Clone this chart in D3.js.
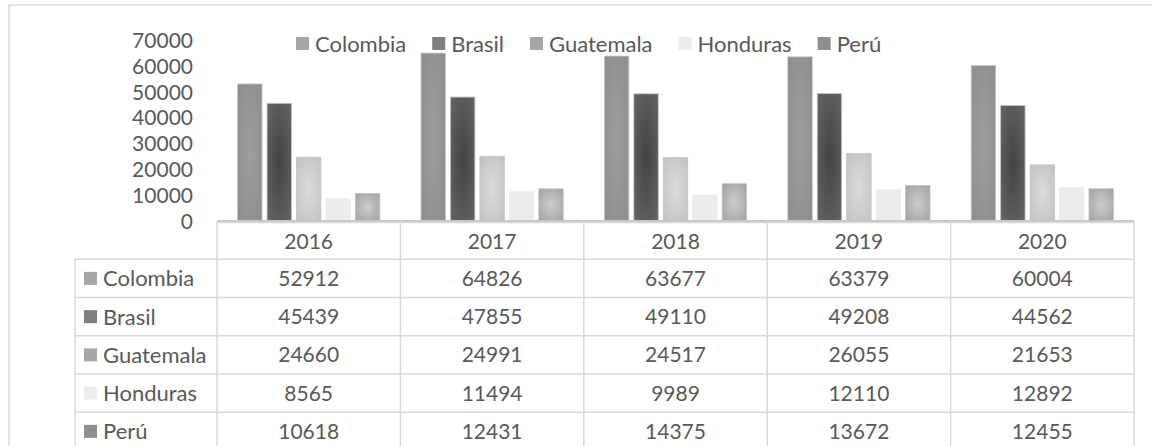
<!DOCTYPE html>
<html>
<head>
<meta charset="utf-8">
<script src="https://cdn.jsdelivr.net/npm/d3@7/dist/d3.min.js"></script>
<style>
  html, body { margin: 0; padding: 0; background: #fff; }
  svg { display: block; font-family: Lato, "Open Sans", sans-serif; }
</style>
</head>
<body>
<svg id="chart" width="1152" height="446"></svg>
<script>
const years = ["2016", "2017", "2018", "2019", "2020"];
const seriesNames = ["Colombia", "Brasil", "Guatemala", "Honduras", "Perú"];
const colombia = [52912, 64826, 63677, 63379, 60004];
const brasil = [45439, 47855, 49110, 49208, 44562];
const guatemala = [24660, 24991, 24517, 26055, 21653];
const honduras = [8565, 11494, 9989, 12110, 12892];
const peru = [10618, 12431, 14375, 13672, 12455];
const yTicks = [0, 10000, 20000, 30000, 40000, 50000, 60000, 70000];

const seriesValues = [colombia, brasil, guatemala, honduras, peru];

// styling (not data)
const swatch = ["#a6a6a6", "#7f7f7f", "#a6a6a6", "#ececec", "#8f8f8f"];
const gradStops = [
  ["#9e9e9e", "#8c8c8c"],
  ["#434343", "#686868"],
  ["#dcdcdc", "#bfbfbf"],
  ["#ececec", "#ececec"],
  ["#cdcdcd", "#9d9d9d"]
];
const textColor = "#595959";
const lineColor = "#d9d9d9";
const numSize = "21px", wordSize = "22px";

const svg = d3.select("#chart");
const defs = svg.append("defs");
gradStops.forEach((g, i) => {
  const rg = defs.append("radialGradient").attr("id", "g" + i)
    .attr("cx", "50%").attr("cy", "50%").attr("r", "75%");
  rg.append("stop").attr("offset", "0%").attr("stop-color", g[0]);
  rg.append("stop").attr("offset", "100%").attr("stop-color", g[1]);
});

// outer frame
svg.append("rect").attr("x", 9).attr("y", 5).attr("width", 1160).attr("height", 460)
  .attr("fill", "none").attr("stroke", lineColor).attr("stroke-width", 1.5);

const plotLeft = 217, plotRight = 1134, base = 221, plotTop = 39.7;
const x0 = d3.scaleBand().domain(years).range([plotLeft, plotRight]).padding(0);
const x1 = d3.scaleBand().domain(seriesNames).range([0, x0.bandwidth()])
  .paddingInner(0.17).paddingOuter(0.7);
const y = d3.scaleLinear().domain([0, 70000]).range([base, plotTop]);

// y axis labels
const yAxis = d3.axisLeft(y).tickValues(yTicks).tickFormat(d3.format("d")).tickSize(0).tickPadding(0);
const yg = svg.append("g").attr("transform", "translate(193,0)").call(yAxis);
yg.select(".domain").remove();
yg.selectAll("text").attr("fill", textColor).style("font-size", numSize)
  .style("font-family", "Lato, 'Open Sans', sans-serif").attr("dy", "0.36em");

// bars
seriesNames.forEach((s, si) => {
  svg.append("g").selectAll("rect").data(seriesValues[si]).join("rect")
    .attr("x", (d, i) => x0(years[i]) + x1(s))
    .attr("y", d => y(d))
    .attr("width", x1.bandwidth())
    .attr("height", d => base - y(d))
    .attr("fill", `url(#g${si})`)
    .attr("stroke", si === 3 ? "#ececec" : "#c4c4c4")
    .attr("stroke-width", 0.8);
});

// baseline
svg.append("line").attr("x1", plotLeft).attr("x2", plotRight).attr("y1", base).attr("y2", base)
  .attr("stroke", "#c6c6c6").attr("stroke-width", 2);

// legend
const lg = svg.append("g");
let lx = 296;
seriesNames.forEach((s, i) => {
  lg.append("rect").attr("x", lx).attr("y", 37).attr("width", 13).attr("height", 13)
    .attr("fill", swatch[i]);
  const t = lg.append("text").attr("x", lx + 19).attr("y", 44).attr("dy", "0.36em")
    .attr("fill", textColor).style("font-size", wordSize).text(s);
  lx += 19 + t.node().getComputedTextLength() + 26;
});

// data table
const rows = d3.scaleBand().domain(["header"].concat(seriesNames)).range([base, base + 6 * 38.25]);
const rh = rows.bandwidth();
const tbl = svg.append("g");
const tableLeft = 75;
rows.domain().forEach((r, i) => {
  const yy = rows(r) + (i === 0 ? 1.5 : 0);
  tbl.append("line").attr("x1", i === 0 ? plotLeft : tableLeft).attr("x2", plotRight)
    .attr("y1", yy).attr("y2", yy)
    .attr("stroke", lineColor).attr("stroke-width", 1.5);
});
tbl.append("line").attr("x1", tableLeft).attr("x2", tableLeft)
  .attr("y1", rows("Colombia")).attr("y2", 470).attr("stroke", lineColor).attr("stroke-width", 1.5);
years.concat(["end"]).forEach((yr, i) => {
  const xx = i < years.length ? x0(yr) : plotRight;
  tbl.append("line").attr("x1", xx).attr("x2", xx).attr("y1", base).attr("y2", 470)
    .attr("stroke", lineColor).attr("stroke-width", 1.5);
});
years.forEach(yr => {
  tbl.append("text").attr("x", x0(yr) + x0.bandwidth() / 2).attr("y", rows("header") + rh / 2 + 1)
    .attr("dy", "0.36em").attr("text-anchor", "middle").attr("fill", textColor)
    .style("font-size", numSize).text(yr);
});
seriesNames.forEach((s, si) => {
  const cy = rows(s) + rh / 2;
  tbl.append("rect").attr("x", 84).attr("y", cy - 6.5).attr("width", 13).attr("height", 13)
    .attr("fill", swatch[si]);
  tbl.append("text").attr("x", 103).attr("y", cy).attr("dy", "0.36em").attr("fill", textColor)
    .style("font-size", wordSize).text(s);
  seriesValues[si].forEach((v, i) => {
    tbl.append("text").attr("x", x0(years[i]) + x0.bandwidth() / 2).attr("y", cy)
      .attr("dy", "0.36em").attr("text-anchor", "middle").attr("fill", textColor)
      .style("font-size", numSize).text(v);
  });
});
</script>
</body>
</html>
